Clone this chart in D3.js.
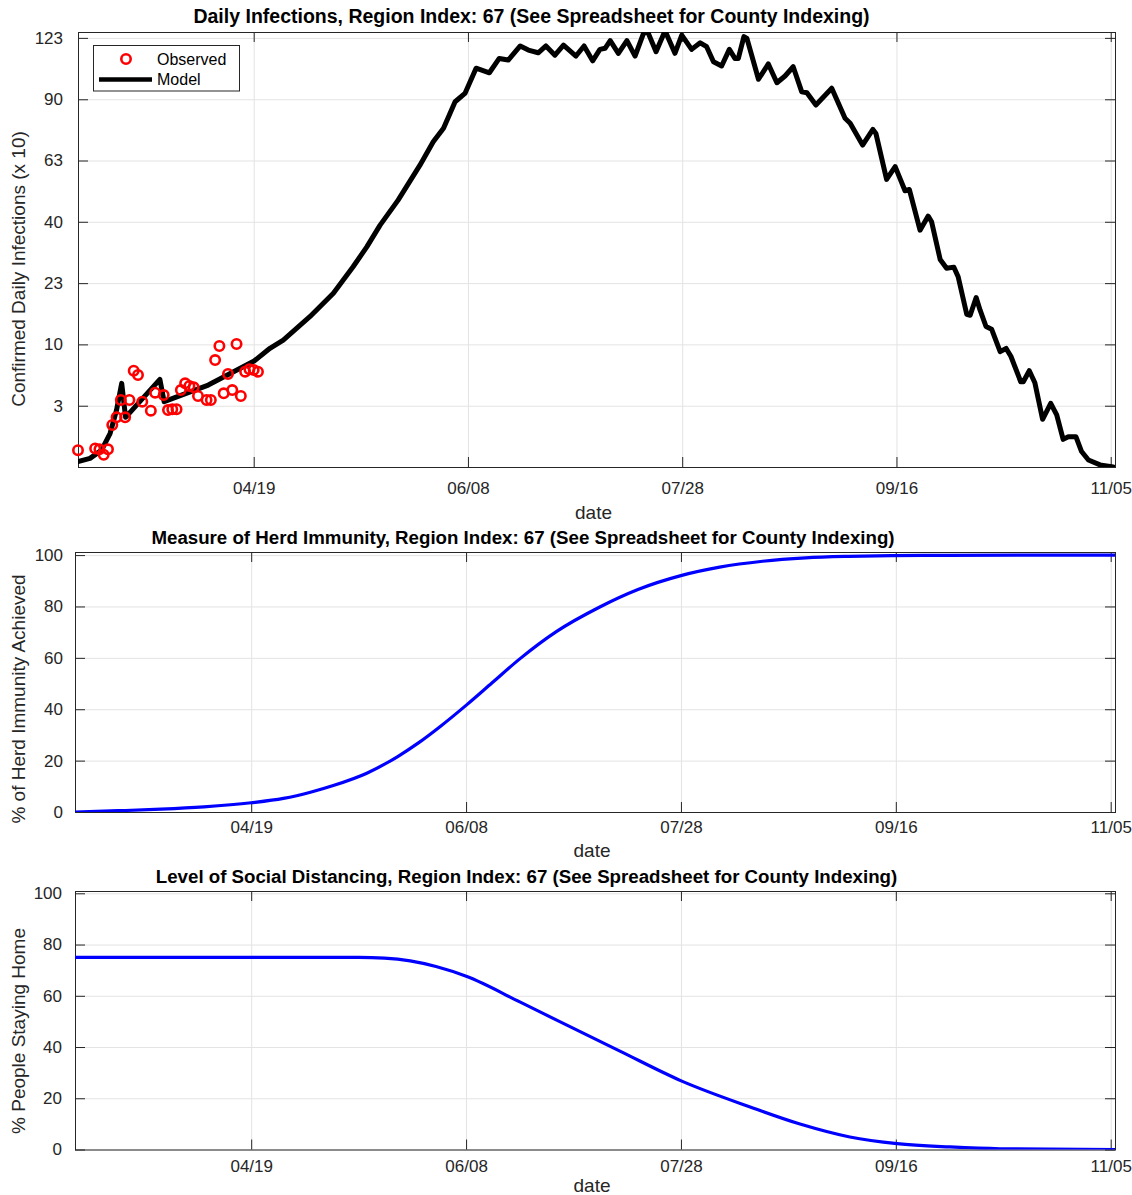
<!DOCTYPE html>
<html>
<head>
<meta charset="utf-8">
<script src="https://cdn.jsdelivr.net/npm/d3@7"></script>
<style>
  body { margin: 0; background: #fff; }
  text { font-family: "Liberation Sans", Arial, Helvetica, sans-serif; }
</style>
</head>
<body>
<script>
(function(){

    // ---- data (days counted from startDate) ----
    var startDate = "2020-03-09",
        endDate = "2020-11-06";
    var xTickDates = ["2020-04-19", "2020-06-08", "2020-07-28", "2020-09-16", "2020-11-05"];
    var xTickLabels = ["04/19", "06/08", "07/28", "09/16", "11/05"];

    // infections axis is drawn on a square-root scale, labels are rounded
    var infTickVals = [2.51, 10.05, 22.6, 40.2, 62.8, 90.4, 123.1];
    var infTickLabels = ["3", "10", "23", "40", "63", "90", "123"];
    var pctTickVals = [0, 20, 40, 60, 80, 100];

    var obsDays = [0, 4, 5, 6, 7, 8, 9, 10, 11, 12, 13, 14, 15, 17, 18, 20, 21, 22, 23, 24, 25, 26, 27, 28,
                   30, 31, 32, 33, 34, 35, 36, 37, 38, 39, 40, 41, 42];
    var obsVals = [0.19, 0.23, 0.21, 0.10, 0.21, 1.18, 1.65, 3.0, 1.65, 3.0, 6.2, 5.66, 2.85, 2.12, 3.69,
                   3.46, 2.17, 2.23, 2.23, 3.96, 4.68, 4.39, 4.24, 3.37, 3.0, 3.0, 7.65, 9.79, 3.63, 5.78,
                   3.96, 10.11, 3.37, 6.07, 6.4, 6.29, 6.07];

    var modelDays = [0, 2.8, 5.5, 7.5, 9, 10.2, 11.1, 19.1, 20.1, 30.4, 41.1, 44.8, 47.9, 54.1, 59.6, 64.2,
                     67.4, 70.5, 74.7, 79.8, 82.9, 85.3, 88, 90.3, 92.9, 96, 98.3, 100.4, 103.2, 105.1, 107.4,
                     109.2, 111.3, 113.3, 116.2, 118.1, 120.1, 121.8, 123, 124.2, 126.1, 128.1, 130, 132.1,
                     133.1, 134.9, 137, 139.3, 140.9, 143.2, 145.2, 146.7, 148.3, 150.2, 152, 153.3, 154.1,
                     155.4, 156.1, 158.8, 161.1, 163.1, 165, 166.9, 168.9, 170.1, 172.2, 175.9, 179, 180.2,
                     183.1, 185.5, 186.2, 188.7, 190.7, 193, 194, 196.5, 198.4, 199.2, 201.2, 202.7, 204.4,
                     205.4, 207.4, 208.2, 209.6, 210.5, 211.9, 213.2, 215.2, 216.6, 217.7, 220, 220.6, 222,
                     223.3, 225.1, 227, 228.4, 229.9, 231.1, 232.9, 234.2, 235.8, 238.5, 241.6];
    var modelVals = [0.02, 0.05, 0.19, 0.76, 2.17, 4.68, 1.65, 5.14, 2.85, 4.49, 7.51, 9.42, 10.78, 15.1,
                     20.2, 26.8, 32.4, 39.1, 47.6, 60.9, 70.7, 76.7, 89.2, 93.3, 106.3, 103.9, 111.6, 110.7,
                     118.5, 116.2, 114.7, 118.5, 113.4, 119.0, 112.9, 118.5, 110.3, 116.6, 117.2, 121.5,
                     114.4, 121.5, 112.9, 126.6, 125.7, 115.3, 127.2, 114.4, 124.7, 116.6, 120.3, 118.1,
                     109.8, 107.5, 116.6, 111.6, 111.6, 123.8, 122.8, 100.5, 108.6, 98.7, 102.2, 107.1,
                     94.1, 93.6, 87.6, 95.9, 81.3, 79.0, 69.3, 76.2, 74.4, 55.3, 60.3, 51.0, 51.5, 37.5,
                     42.1, 40.2, 28.8, 26.4, 26.7, 24.2, 15.6, 15.4, 19.2, 16.5, 13.2, 12.7, 8.9, 9.4, 8.2,
                     4.86, 4.86, 6.2, 4.75, 1.52, 2.71, 1.81, 0.51, 0.61, 0.61, 0.16, 0.033, 0.003, 0];

    var herdDays = [0, 10, 20, 30, 41, 48.5, 55, 60.1, 67.9, 75, 80, 85, 91.2, 97, 103.5, 112, 122, 131,
                    141.2, 150, 160, 170, 180, 190, 200, 220, 242];
    var herdVals = [0, 0.5, 1.1, 2.0, 3.6, 5.3, 7.8, 10.3, 15.1, 21.5, 27, 33.3, 41.8, 50.2, 59.6, 70.2,
                    79.7, 86.6, 92.1, 95.3, 97.6, 98.9, 99.5, 99.8, 99.9, 100, 100];

    var distDays = [0, 66, 72, 78, 84, 91.2, 103.5, 112.8, 126.8, 141.2, 157.1, 168.7, 180.3, 191.3,
                    203.6, 215.2, 242];
    var distVals = [75, 75, 74.7, 73.6, 71.4, 67.5, 57.6, 49.9, 38.4, 26.7, 16.6, 9.95, 4.9, 2.3, 1.0,
                    0.3, 0];

    // ---- setup ----
    var width = 1132, height = 1195;
    var parse = d3.utcParse("%Y-%m-%d");
    var t0 = parse(startDate), t1 = parse(endDate);
    var tickDates = xTickDates.map(parse);
    function toDate(d) { return new Date(t0.getTime() + d * 864e5); }

    var svg = d3.select("body").append("svg")
        .attr("width", width)
        .attr("height", height);

    var axisColor = "#262626", gridColor = "#e3e3e3";

    // draws grid, box, ticks and labels of one subplot, returns its scales
    function makePanel(p, idx) {
        var x = d3.scaleUtc().domain([t0, t1]).range([p.left, p.right]);
        var y = (p.sqrt ? d3.scaleSqrt() : d3.scaleLinear())
            .domain([0, p.ymax]).range([p.bottom, p.top]);
        var w = p.right - p.left, h = p.bottom - p.top;
        var g = svg.append("g");

        svg.append("clipPath").attr("id", "clip" + idx)
            .append("rect").attr("x", p.left).attr("y", p.top).attr("width", w).attr("height", h);

        // grid lines
        g.append("g").attr("transform", "translate(0," + p.bottom + ")").attr("color", gridColor)
            .call(d3.axisBottom(x).tickValues(tickDates).tickSize(-h).tickFormat(""))
            .call(function(s){ s.select(".domain").remove(); });
        g.append("g").attr("transform", "translate(" + p.left + ",0)").attr("color", gridColor)
            .call(d3.axisLeft(y).tickValues(p.yTicks).tickSize(-w).tickFormat(""))
            .call(function(s){ s.select(".domain").remove(); });

        // inward ticks on all four sides, labels on bottom and left
        var axes = g.append("g").attr("color", axisColor)
            .attr("font-size", 17).attr("font-family", "Liberation Sans, Arial, sans-serif");
        axes.append("g").attr("transform", "translate(0," + p.bottom + ")")
            .call(d3.axisBottom(x).tickValues(tickDates).tickSize(-10).tickPadding(p.xPad)
                .tickFormat(function(d, i){ return xTickLabels[i]; }))
            .call(function(s){ s.select(".domain").remove(); });
        axes.append("g").attr("transform", "translate(0," + p.top + ")")
            .call(d3.axisTop(x).tickValues(tickDates).tickSize(-10).tickFormat(""))
            .call(function(s){ s.select(".domain").remove(); });
        axes.append("g").attr("transform", "translate(" + p.left + ",0)")
            .call(d3.axisLeft(y).tickValues(p.yTicks).tickSize(-10).tickPadding(p.yPad)
                .tickFormat(function(d, i){ return p.yLabels[i]; }))
            .call(function(s){ s.select(".domain").remove(); });
        axes.append("g").attr("transform", "translate(" + p.right + ",0)")
            .call(d3.axisRight(y).tickValues(p.yTicks).tickSize(-10).tickFormat(""))
            .call(function(s){ s.select(".domain").remove(); });
        axes.selectAll("text").attr("font-size", 17);

        g.append("rect")
            .attr("x", p.left + 0.5).attr("y", p.top + 0.5)
            .attr("width", w).attr("height", h)
            .attr("fill", "none").attr("stroke", axisColor).attr("stroke-width", 1);

        // title and axis labels
        svg.append("text").attr("x", p.titleX).attr("y", p.titleY)
            .attr("text-anchor", "middle").attr("font-weight", "bold").attr("font-size", p.titleSize)
            .attr("fill", "#000").text(p.title);
        svg.append("text").attr("x", (p.left + p.right) / 2 - 3).attr("y", p.dateY)
            .attr("text-anchor", "middle").attr("font-size", 19).attr("fill", axisColor).text("date");
        svg.append("text").attr("transform", "translate(20," + p.ylabelY + ") rotate(-90)")
            .attr("text-anchor", "middle").attr("dy", "0.26em").attr("font-size", 19)
            .attr("fill", axisColor).text(p.ylabel);

        return { x: x, y: y, clip: "url(#clip" + idx + ")" };
    }

    var p1 = makePanel({
        left: 78, right: 1115, top: 32, bottom: 467, ymax: 126.5, sqrt: true,
        yTicks: infTickVals, yLabels: infTickLabels, xPad: 15, yPad: 15,
        title: "Daily Infections, Region Index: 67 (See Spreadsheet for County Indexing)",
        titleX: 531.5, titleY: 22.7, titleSize: 19.5, dateY: 519, ylabelY: 269,
        ylabel: "Confirmed Daily Infections (x 10)"
    }, 1);
    var p2 = makePanel({
        left: 75, right: 1115, top: 552, bottom: 812, ymax: 101.2, sqrt: false,
        yTicks: pctTickVals, yLabels: pctTickVals.map(String), xPad: 9, yPad: 12,
        title: "Measure of Herd Immunity, Region Index: 67 (See Spreadsheet for County Indexing)",
        titleX: 523, titleY: 544, titleSize: 18.7, dateY: 857, ylabelY: 699,
        ylabel: "% of Herd Immunity Achieved"
    }, 2);
    var p3 = makePanel({
        left: 75, right: 1115, top: 891, bottom: 1149.5, ymax: 100.9, sqrt: false,
        yTicks: pctTickVals, yLabels: pctTickVals.map(String), xPad: 10.5, yPad: 13,
        title: "Level of Social Distancing, Region Index: 67 (See Spreadsheet for County Indexing)",
        titleX: 526.5, titleY: 882.7, titleSize: 18.7, dateY: 1192, ylabelY: 1031,
        ylabel: "% People Staying Home"
    }, 3);

    // ---- top panel: model line and observed circles ----
    var modelLine = d3.line()
        .x(function(d, i){ return p1.x(toDate(modelDays[i])); })
        .y(function(d, i){ return p1.y(modelVals[i]); });
    svg.append("path").datum(modelVals)
        .attr("clip-path", p1.clip)
        .attr("d", modelLine)
        .attr("fill", "none").attr("stroke", "#000").attr("stroke-width", 5)
        .attr("stroke-linejoin", "round").attr("stroke-linecap", "round");

    svg.append("g").selectAll("circle")
        .data(obsVals).enter().append("circle")
        .attr("cx", function(d, i){ return p1.x(toDate(obsDays[i])); })
        .attr("cy", function(d){ return p1.y(d); })
        .attr("r", 4.7)
        .attr("fill", "none").attr("stroke", "#ff0000").attr("stroke-width", 2.6);

    // legend
    var lg = svg.append("g");
    lg.append("rect").attr("x", 93.5).attr("y", 45.5).attr("width", 146).attr("height", 45.5)
        .attr("fill", "#fff").attr("stroke", axisColor).attr("stroke-width", 1);
    lg.append("circle").attr("cx", 126).attr("cy", 59).attr("r", 4.7)
        .attr("fill", "none").attr("stroke", "#ff0000").attr("stroke-width", 2.6);
    lg.append("line").attr("x1", 99).attr("x2", 152).attr("y1", 79.5).attr("y2", 79.5)
        .attr("stroke", "#000").attr("stroke-width", 4.5);
    lg.append("text").attr("x", 157).attr("y", 59).attr("dy", "0.35em")
        .attr("font-size", 16).attr("fill", "#000").text("Observed");
    lg.append("text").attr("x", 157).attr("y", 79.5).attr("dy", "0.35em")
        .attr("font-size", 16).attr("fill", "#000").text("Model");

    // ---- middle and bottom panels ----
    function blueLine(panel, days, vals) {
        var line = d3.line()
            .curve(d3.curveMonotoneX)
            .x(function(d, i){ return panel.x(toDate(days[i])); })
            .y(function(d){ return panel.y(d); });
        svg.append("path").datum(vals)
            .attr("clip-path", panel.clip)
            .attr("d", line)
            .attr("fill", "none").attr("stroke", "#0000ff").attr("stroke-width", 3.2);
    }
    blueLine(p2, herdDays, herdVals);
    blueLine(p3, distDays, distVals);

})();
</script>
</body>
</html>
